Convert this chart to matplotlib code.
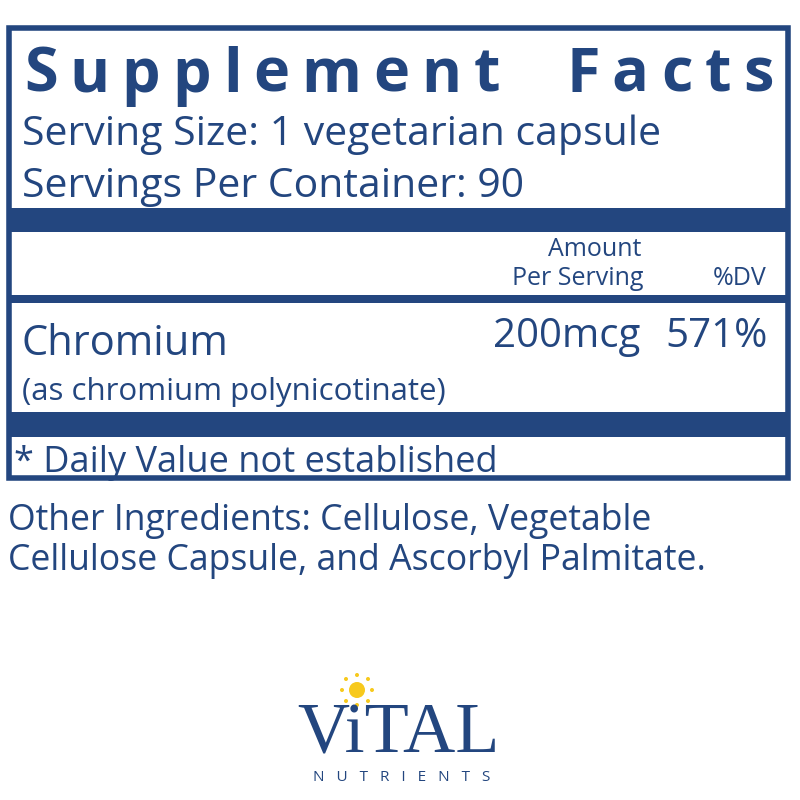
import matplotlib.pyplot as plt
from matplotlib.patches import Rectangle, Circle

NAVY = "#23467f"
SUN = "#f7c91c"
FONT = "Open Sans"

title_words = ["Supplement", "Facts"]
serving_size = "Serving Size: 1 vegetarian capsule"
servings_per = "Servings Per Container: 90"
nutrient = "Chromium"
nutrient_form = "(as chromium polynicotinate)"
amount = "200mcg"
dv = "571%"
footnote = "* Daily Value not established"
other_lines = ["Other Ingredients: Cellulose, Vegetable",
               "Cellulose Capsule, and Ascorbyl Palmitate."]
brand = "ViTAL"
brand_sub = "NUTRIENTS"

fig = plt.figure(figsize=(8, 8), dpi=100)
ax = fig.add_axes([0, 0, 1, 1])
ax.set_xlim(0, 800)
ax.set_ylim(800, 0)
ax.axis("off")

# outer box and rules
ax.add_patch(Rectangle((9, 28), 779, 450, fill=False, ec=NAVY, lw=4))
for y0, h in [(208, 24), (295, 8), (412, 25)]:
    ax.add_patch(Rectangle((9, y0), 779, h, color=NAVY, lw=0))

# letter-spaced title: measure glyphs, then spread with equal gaps
renderer = fig.canvas.get_renderer()
spans = [(24, 500), (566, 774)]
for word, (x0, x1) in zip(title_words, spans):
    arts = [ax.text(0, 92, ch, fontsize=44, fontweight="bold", color=NAVY,
                    family=FONT, ha="left", va="baseline") for ch in word]
    widths = [a.get_window_extent(renderer).width for a in arts]
    gap = (x1 - x0 - sum(widths)) / (len(word) - 1)
    x = x0
    for a, w in zip(arts, widths):
        a.set_x(x)
        x += w + gap

t = dict(color=NAVY, family=FONT, va="baseline")
ax.text(22, 145, serving_size, fontsize=29.5, **t)
ax.text(22, 197, servings_per, fontsize=29.5, **t)
ax.text(595, 256, "Amount", fontsize=18, ha="center", **t)
ax.text(643, 285, "Per Serving", fontsize=18, ha="right", **t)
ax.text(766, 285, "%DV", fontsize=18, ha="right", **t)
ax.text(22, 355, nutrient, fontsize=30, **t)
ax.text(640, 347, amount, fontsize=29, ha="right", **t)
ax.text(768, 347, dv, fontsize=29, ha="right", **t)
ax.text(22, 400, nutrient_form, fontsize=22.5, **t)
ax.text(14, 472, footnote, fontsize=26, **t)
ax.text(8, 530, other_lines[0], fontsize=25.7, **t)
ax.text(8, 570, other_lines[1], fontsize=25.7, **t)

# logo
ax.add_patch(Circle((357, 690), 8, color=SUN, lw=0))
for dx, dy in [(0, -15), (11, -11), (15, 0), (11, 11), (0, 15), (-11, 11), (-15, 0), (-11, -11)]:
    ax.add_patch(Circle((357 + dx, 690 + dy), 2, color=SUN, lw=0))
ax.text(398, 752, brand, fontsize=52, color=NAVY, family="Liberation Serif",
        ha="center", va="baseline")
ax.text(402, 781, "   ".join(brand_sub), fontsize=11, color=NAVY, family=FONT,
        ha="center", va="baseline")

fig.savefig("out.png", dpi=100, facecolor="white")
